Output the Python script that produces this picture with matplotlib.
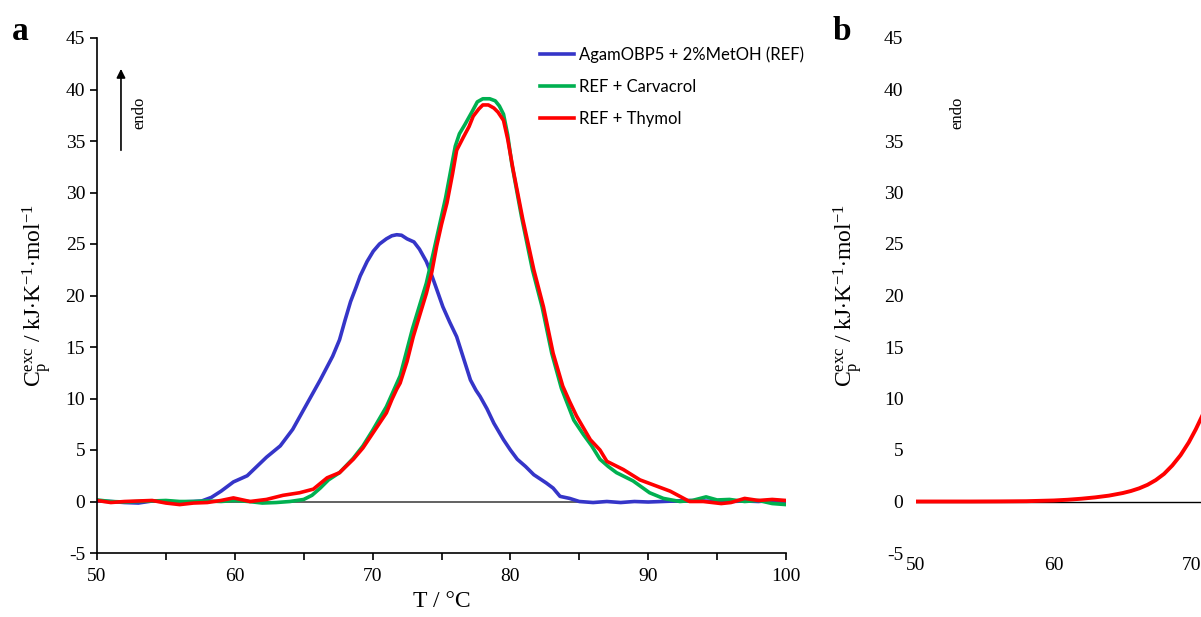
import matplotlib
matplotlib.use("Agg")
import matplotlib.pyplot as plt

plt.rcParams["mathtext.fontset"] = "custom"
plt.rcParams["mathtext.rm"] = "Liberation Serif"
plt.rcParams["mathtext.it"] = "Liberation Serif:italic"
plt.rcParams["font.family"] = "Liberation Serif"
plt.rcParams["axes.unicode_minus"] = False

# ---- panel a: DSC thermograms ----
t_ref = [50, 51, 52, 53, 54, 55, 56, 57, 57.6, 58.3, 59, 59.9, 60.9, 62.3, 63.3, 64.2,
         65.2, 66.2, 67.1, 67.6, 68.0, 68.4, 68.8, 69.1, 69.6, 70.05, 70.5, 71.0, 71.4,
         71.75, 72.1, 72.5, 73.0, 73.4, 73.9, 74.2, 74.6, 75.1, 75.6, 76.1, 76.6, 77.1,
         77.5, 77.8, 78.3, 78.8, 79.5, 80.0, 80.5, 81.1, 81.7, 82.6, 83.1, 83.6, 84.3,
         85.0, 86, 87, 88, 89, 90, 91, 92, 93, 94, 95, 96, 97, 98, 99, 100]
cp_ref = [0.05, 0.0, -0.1, -0.15, 0.05, 0.0, -0.05, 0.0, 0.05, 0.4, 1.0, 1.9, 2.5, 4.3,
          5.4, 7.0, 9.4, 11.8, 14.1, 15.7, 17.6, 19.4, 20.8, 21.9, 23.3, 24.3, 25.0,
          25.5, 25.8, 25.9, 25.85, 25.5, 25.2, 24.5, 23.3, 22.3, 20.8, 18.9, 17.4, 16.0,
          13.9, 11.8, 10.8, 10.2, 9.0, 7.6, 6.0, 5.0, 4.1, 3.4, 2.6, 1.8, 1.3, 0.5,
          0.3, 0.0, -0.1, 0.0, -0.1, 0.0, -0.05, 0.0, 0.05, 0.1, 0.05, 0.0, 0.0, 0.05,
          0.0, 0.1, 0.05]

t_carv = [50, 51, 52, 53, 54, 55, 56, 57, 58, 59, 60, 61, 62, 63, 64, 65, 65.6, 66.2,
          66.8, 67.6, 68.6, 69.3, 70.0, 71.0, 72.0, 72.9, 73.9, 74.4, 75.3, 76.0, 76.3,
          76.7, 77.2, 77.6, 78.0, 78.5, 78.9, 79.2, 79.5, 79.8, 80.1, 80.8, 81.6, 82.3,
          83.0, 83.7, 84.6, 85.3, 85.9, 86.5, 87.1, 87.7, 88.9, 90.1, 91.1, 92.3, 93.2,
          94.2, 95.0, 95.9, 97, 98, 99, 100]
cp_carv = [0.15, 0.0, -0.05, 0.0, 0.05, 0.1, 0.0, 0.0, 0.05, 0.0, 0.1, 0.0, -0.15, -0.1,
           0.0, 0.2, 0.6, 1.3, 2.1, 2.8, 4.2, 5.4, 6.9, 9.2, 12.2, 16.8, 21.2, 24.1, 29.5,
           34.5, 35.7, 36.6, 37.8, 38.8, 39.1, 39.1, 38.9, 38.4, 37.6, 35.6, 32.8, 27.7,
           22.5, 18.9, 14.4, 11.0, 7.9, 6.5, 5.4, 4.1, 3.4, 2.8, 2.0, 0.85, 0.3, 0.0,
           0.1, 0.45, 0.15, 0.2, 0.0, 0.1, -0.2, -0.3]

t_thym = [50, 51, 52, 53, 54, 55, 56, 57, 58, 59, 59.9, 61.1, 62.3, 63.5, 64.7, 65.7,
          66.7, 67.6, 68.6, 69.3, 70.05, 70.5, 71.0, 71.4, 71.75, 72.0, 72.5, 72.95, 73.4,
          73.9, 74.3, 74.65, 75.0, 75.4, 75.8, 76.1, 76.6, 77.0, 77.3, 77.7, 78.0, 78.4,
          78.8, 79.1, 79.5, 79.8, 80.2, 80.9, 81.7, 82.4, 83.1, 83.8, 84.3, 84.8, 85.8,
          86.5, 87.0, 88.2, 89.4, 90.6, 91.6, 93.0, 94, 95.3, 96, 97.0, 98, 99, 100]
cp_thym = [0.1, -0.1, 0.0, 0.05, 0.1, -0.15, -0.3, -0.15, -0.1, 0.1, 0.35, 0.0, 0.2,
           0.6, 0.85, 1.2, 2.3, 2.8, 4.1, 5.2, 6.7, 7.6, 8.6, 9.9, 10.9, 11.5, 13.6,
           16.0, 18.0, 20.2, 22.3, 24.8, 26.9, 29.0, 31.8, 34.1, 35.4, 36.4, 37.4, 38.1,
           38.5, 38.5, 38.2, 37.8, 37.0, 35.2, 32.2, 27.4, 22.5, 18.9, 14.4, 11.2, 9.7,
           8.3, 6.0, 5.0, 3.9, 3.1, 2.1, 1.5, 1.0, 0.0, 0.0, -0.2, -0.1, 0.3, 0.1, 0.2,
           0.1]

series_labels = ["AgamOBP5 + 2%MetOH (REF)", "REF + Carvacrol", "REF + Thymol"]
series_colors = ["#3535c8", "#00b050", "#ff0000"]

# ---- panel b: model curve ----
t_fit = [50, 52, 54, 56, 58, 60, 61, 62, 63, 64, 65, 65.6, 66.2, 66.8, 67.4, 68.0,
         68.6, 69.2, 69.8, 70.3, 70.8, 71.3]
cp_fit = [0.0, 0.0, 0.0, 0.01, 0.03, 0.1, 0.17, 0.27, 0.4, 0.57, 0.82, 1.02, 1.28, 1.62,
          2.08, 2.68, 3.5, 4.5, 5.75, 7.0, 8.4, 10.0]

x_ticks = [50, 60, 70, 80, 90, 100]
y_ticks = [-5, 0, 5, 10, 15, 20, 25, 30, 35, 40, 45]

W, H = 1201, 617
fig = plt.figure(figsize=(W / 100, H / 100), dpi=100)

ylab = r"C$_{\mathrm{p}}^{\mathrm{exc}}$ / kJ$\cdot$K$^{\mathrm{-1}}$$\cdot$mol$^{\mathrm{-1}}$"

# panel a axes
ax = fig.add_axes([97 / W, 1 - 553 / H, 689 / W, 515 / H])
ax.axhline(0, color="#555555", lw=1.3, zorder=1)
for t, c, lab, col in zip([t_ref, t_carv, t_thym], [cp_ref, cp_carv, cp_thym],
                          series_labels, series_colors):
    ax.plot(t, c, color=col, lw=2.6, label=lab, zorder=2, solid_joinstyle="round")
ax.set_xlim(50, 100)
ax.set_ylim(-5, 45)
ax.set_xticks(x_ticks)
ax.set_xticks([55, 65, 75, 85, 95], minor=True)
ax.set_yticks(y_ticks)
ax.tick_params(axis="both", labelsize=14, direction="out", length=5, width=1.2,
               color="black")
ax.tick_params(axis="x", which="minor", length=5, width=1.2)
ax.tick_params(axis="x", pad=6)
for s in ["top", "right"]:
    ax.spines[s].set_visible(False)
for s in ["left", "bottom"]:
    ax.spines[s].set_linewidth(1.2)
ax.annotate("", xy=(51.74, 42.0), xytext=(51.74, 34.1),
            arrowprops=dict(arrowstyle="-|>", lw=1.2, color="black", mutation_scale=13,
                            shrinkA=0, shrinkB=0))
ax.text(53.1, 37.7, "endo", rotation=90, ha="center", va="center", fontsize=12)
ax.set_xlabel("T / °C", fontsize=17, labelpad=4)
ax.legend(loc="upper left", bbox_to_anchor=(532 / W, 1 - 38 / H),
          bbox_transform=fig.transFigure, frameon=False, borderpad=0,
          handlelength=2.0, handletextpad=0.3, labelspacing=0.95,
          prop={"family": "Lato", "size": 12})

fig.text(37 / W, 1 - 296 / H, ylab, rotation=90, ha="center", va="center", fontsize=17)
fig.text(12 / W, 1 - 31 / H, "a", fontsize=24, fontweight="bold", ha="left",
         va="center")

# panel b axes (extends past the right edge)
bx = fig.add_axes([916 / W, 1 - 553 / H, 689 / W, 515 / H])
bx.axhline(0, color="black", lw=1.0, zorder=1)
bx.plot(t_fit, cp_fit, color="#ff0000", lw=2.8, zorder=2, solid_joinstyle="round")
bx.set_xlim(50, 100)
bx.set_ylim(-5, 45)
bx.set_xticks(x_ticks)
bx.set_yticks(y_ticks)
bx.tick_params(axis="both", labelsize=14, length=0, pad=9)
bx.tick_params(axis="x", pad=3)
for s in bx.spines.values():
    s.set_visible(False)
bx.text(53.0, 37.7, "endo", rotation=90, ha="center", va="center", fontsize=12)
fig.text(848 / W, 1 - 296 / H, ylab, rotation=90, ha="center", va="center", fontsize=17)
fig.text(833 / W, 1 - 31 / H, "b", fontsize=24, fontweight="bold", ha="left",
         va="center")

fig.savefig("out.png", dpi=100)
